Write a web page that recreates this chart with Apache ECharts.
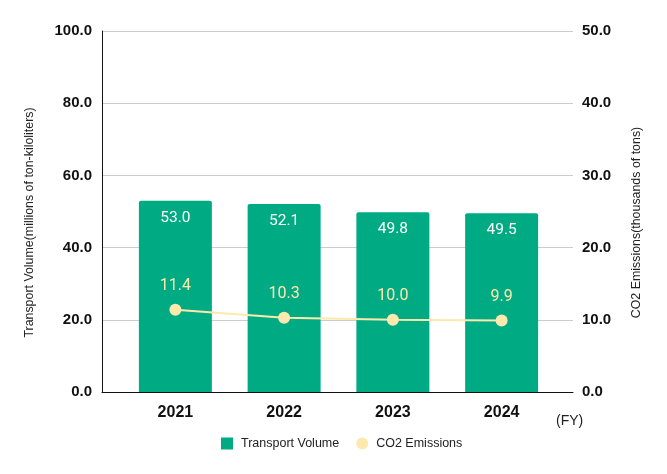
<!DOCTYPE html>
<html><head><meta charset="utf-8">
<script src="https://cdn.jsdelivr.net/npm/echarts@6/dist/echarts.min.js"></script>
<style>html,body{margin:0;padding:0;background:#fff}#c{width:667px;height:474px}</style>
</head><body><div id="c"></div>
<script>
const categories = ['2021', '2022', '2023', '2024'];
const transportVolume = [53.0, 52.1, 49.8, 49.5];
const co2Emissions = [11.4, 10.3, 10.0, 9.9];
const leftTicks = {min: 0, max: 100, interval: 20};
const rightTicks = {min: 0, max: 50, interval: 10};

const chart = echarts.init(document.getElementById('c'));
const axisFont = {fontFamily: 'Liberation Sans, Arial, sans-serif', fontWeight: 'bold', fontSize: 15, color: '#111'};
chart.setOption({
  animation: false,
  grid: [
    {left: 102, right: 94, top: 31, bottom: 82},
    {left: 121, right: 111, top: 31, bottom: 82}
  ],
  xAxis: [
    {type: 'category', gridIndex: 0, data: ['a'], axisLine: {show: true, lineStyle: {color: '#111', width: 1}}, axisTick: {show: false}, axisLabel: {show: false}},
    {type: 'category', gridIndex: 1, data: categories, axisLine: {show: false}, axisTick: {show: false},
      axisLabel: Object.assign({}, axisFont, {fontSize: 16, margin: 13})}
  ],
  yAxis: [
    {type: 'value', gridIndex: 0, position: 'left', min: leftTicks.min, max: leftTicks.max, interval: leftTicks.interval,
      axisLine: {show: true, lineStyle: {color: '#111'}}, axisTick: {show: false},
      axisLabel: Object.assign({}, axisFont, {margin: 10, formatter: v => v.toFixed(1)}),
      splitLine: {lineStyle: {color: '#cccccc'}},
      name: 'Transport Volume(millions of ton-kiloliters)', nameLocation: 'middle', nameGap: 66,
      nameTextStyle: {fontFamily: 'Liberation Sans, Arial, sans-serif', fontSize: 12.4, color: '#222', padding: [0, 22, 0, 0]}},
    {type: 'value', gridIndex: 0, position: 'right', min: rightTicks.min, max: rightTicks.max, interval: rightTicks.interval,
      axisLine: {show: false}, axisTick: {show: false}, splitLine: {show: false},
      axisLabel: Object.assign({}, axisFont, {margin: 9, formatter: v => v.toFixed(1)}),
      name: 'CO2 Emissions(thousands of tons)', nameLocation: 'middle', nameGap: 58,
      nameTextStyle: {fontFamily: 'Liberation Sans, Arial, sans-serif', fontSize: 12.4, color: '#222', padding: [0, 22, 0, 0]}},
    {type: 'value', gridIndex: 1, min: leftTicks.min, max: leftTicks.max, show: false},
    {type: 'value', gridIndex: 1, min: rightTicks.min, max: rightTicks.max, show: false}
  ],
  legend: {
    bottom: 24, left: 221, padding: 0, itemGap: 17, itemWidth: 12, itemHeight: 12,
    textStyle: {fontFamily: 'Liberation Sans, Arial, sans-serif', fontSize: 12.5, color: '#222', padding: [0, 0, 0, 3]},
    data: [{name: 'Transport Volume', icon: 'rect'}, {name: 'CO2 Emissions', icon: 'circle'}]
  },
  graphic: [{type: 'text', left: 556, top: 414, style: {text: '(FY)', fontFamily: 'Liberation Sans, Arial, sans-serif', fontSize: 14, fill: '#222'}}],
  series: [
    {name: 'Transport Volume', type: 'bar', xAxisIndex: 1, yAxisIndex: 2, data: transportVolume, barWidth: 73,
      itemStyle: {color: '#00ab84', borderRadius: [2, 2, 0, 0]},
      label: {show: true, position: 'insideTop', distance: 9, color: '#fff', fontFamily: 'Roboto, sans-serif', fontSize: 15.5, formatter: p => p.value.toFixed(1)}},
    {name: 'CO2 Emissions', type: 'line', xAxisIndex: 1, yAxisIndex: 3, data: co2Emissions,
      symbol: 'circle', symbolSize: 12, lineStyle: {color: '#fde9ae', width: 2}, itemStyle: {color: '#fde9ae'},
      label: {show: true, position: 'top', distance: 10, color: '#fde9ae', fontFamily: 'Roboto, sans-serif', fontSize: 16, formatter: p => p.value.toFixed(1)}}
  ]
});
</script></body></html>
